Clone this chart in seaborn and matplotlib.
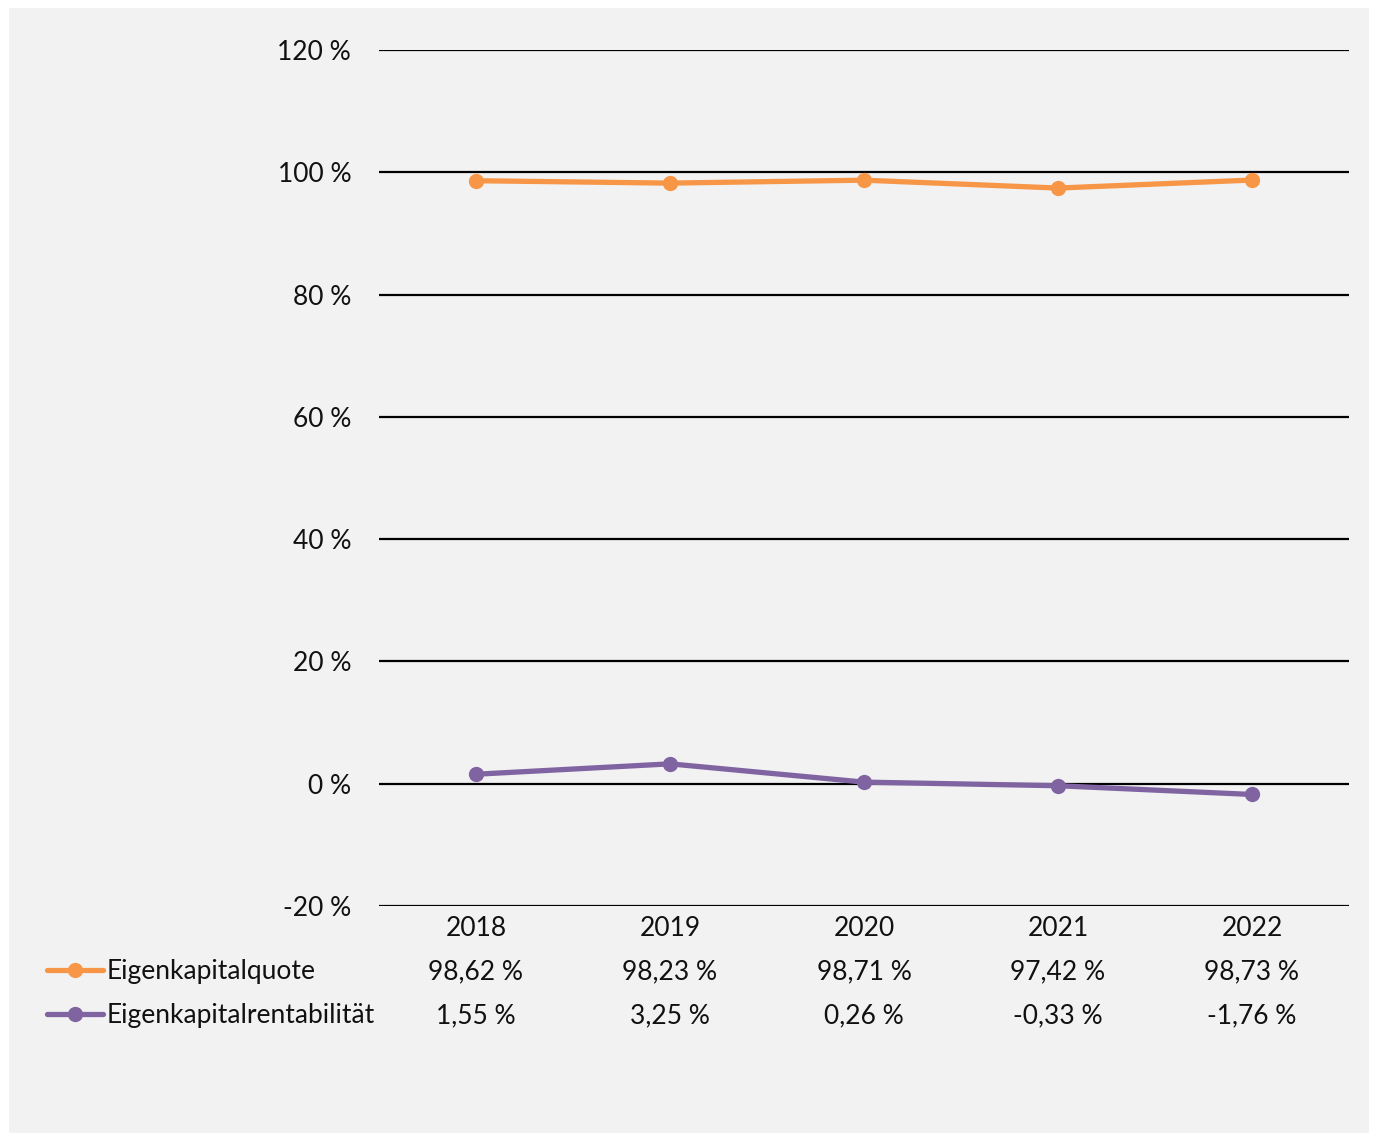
import matplotlib
matplotlib.use("Agg")
import matplotlib.pyplot as plt
import seaborn as sns
import pandas as pd
from matplotlib.lines import Line2D
from matplotlib.patches import Rectangle
from matplotlib.ticker import FuncFormatter, FixedLocator

years = ["2018", "2019", "2020", "2021", "2022"]
series_names = ["Eigenkapitalquote", "Eigenkapitalrentabilität"]
quote = [98.62, 98.23, 98.71, 97.42, 98.73]
rentab = [1.55, 3.25, 0.26, -0.33, -1.76]
y_ticks = [-20, 0, 20, 40, 60, 80, 100, 120]
colors = ["#F79646", "#8064A2"]

sns.set_theme(style="white")
plt.rcParams["font.family"] = ["Lato", "DejaVu Sans"]

df = pd.DataFrame({
    "pos": list(range(len(years))) * 2,
    "value": quote + rentab,
    "series": [series_names[0]] * len(years) + [series_names[1]] * len(years),
})

W, H = 1374, 1135
FS = 19
TXT = "#111111"
fig = plt.figure(figsize=(W / 100, H / 100), dpi=100, facecolor="white")
fig.add_artist(Rectangle((9 / W, 1 - 1133 / H), 1360 / W, 1125 / H,
                         transform=fig.transFigure, facecolor="#F2F2F2",
                         edgecolor="none", zorder=0))
ax = fig.add_axes([379 / W, 1 - 906 / H, 970 / W, 856 / H])
ax.set_facecolor("none")

sns.lineplot(data=df, x="pos", y="value", hue="series", palette=colors,
             marker="o", markersize=11, markeredgewidth=0, linewidth=3.8,
             legend=False, ax=ax, zorder=3)

ax.set_xlim(-0.5, len(years) - 0.5)
ax.set_ylim(-20, 120)
ax.yaxis.set_major_locator(FixedLocator(y_ticks))
ax.yaxis.set_major_formatter(FuncFormatter(lambda v, p: f"{int(v)} %"))
ax.set_xticks([])
ax.set_xlabel("")
ax.set_ylabel("")
for s in ax.spines.values():
    s.set_visible(False)
ax.grid(axis="y", color="black", linewidth=1.6)
ax.set_axisbelow(True)
ax.tick_params(axis="y", length=0, pad=20, labelsize=FS, labelcolor=TXT)

def fmt(v):
    return f"{v:.2f}".replace(".", ",") + " %"

tr = ax.get_xaxis_transform()
axh = 856
def ay(py):
    return (906 - py) / axh

for i, yr in enumerate(years):
    ax.text(i, ay(928), yr, transform=tr, ha="center", va="center",
            fontsize=FS, color=TXT, clip_on=False)
    ax.text(i, ay(972), fmt(quote[i]), transform=tr, ha="center", va="center",
            fontsize=FS, color=TXT, clip_on=False)
    ax.text(i, ay(1016), fmt(rentab[i]), transform=tr, ha="center", va="center",
            fontsize=FS, color=TXT, clip_on=False)

for name, col, py in zip(series_names, colors, [970, 1014]):
    yf = 1 - py / H
    fig.add_artist(Line2D([47 / W, 103 / W], [yf, yf], transform=fig.transFigure,
                          color=col, linewidth=3.8, solid_capstyle="round"))
    fig.add_artist(Line2D([75 / W], [yf], transform=fig.transFigure,
                          color=col, marker="o", markersize=11, markeredgewidth=0))
    fig.text(107 / W, 1 - (py + 2) / H, name, ha="left", va="center", fontsize=FS,
             color=TXT)

fig.savefig("out.png", dpi=100, facecolor="white")
